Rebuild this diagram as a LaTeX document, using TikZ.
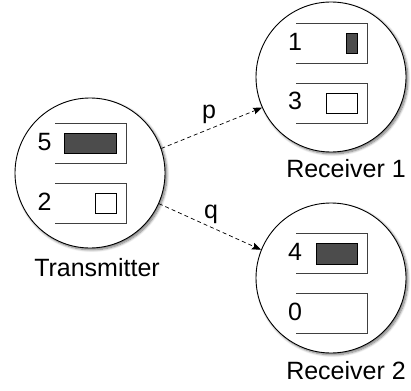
\documentclass[tikz,border=0pt]{standalone}
\usepackage{fontspec}
\setmainfont{Liberation Sans}
\usetikzlibrary{arrows.meta,shadows.blur}
\begin{document}
\begin{tikzpicture}[x=1pt,y=-1pt,
  host/.style={circle,draw=black,line width=0.9pt,fill=white,minimum size=150pt,inner sep=0pt,
    blur shadow={shadow xshift=1.8pt,shadow yshift=-1.8pt,shadow blur radius=2.5pt,shadow blur steps=8,shadow opacity=55}},
  lbl/.style={font=\fontsize{25}{30}\selectfont,inner sep=0pt},
  digit/.style={lbl,anchor=base},
  slot/.style={draw=black!75,line width=0.9pt},
  full/.style={draw=black,line width=0.8pt,fill=black!70},
  empty/.style={draw=black,line width=0.8pt,fill=white},
  msg/.style={dashed,dash pattern=on 4pt off 3pt,line width=0.7pt,-{Stealth[length=9pt,width=7pt,inset=1.5pt]}}
]
\useasboundingbox (0,0) rectangle (411,390);
\node[host] (T) at (90,173) {};
\node[host] (R1) at (331,77) {};
\node[host] (R2) at (331,278) {};
% transmitter slots
\draw[slot] (55,123) -- (126,123) -- (126,163) -- (55,163);
\draw[slot] (55,183) -- (126,183) -- (126,223) -- (55,223);
\draw[full] (64,133) rectangle (116,153);
\draw[empty] (95,193) rectangle (116,213);
\node[digit] (t5) at (44.5,150) {5};
\node[digit] (t2) at (44.5,210) {2};
% receiver 1 slots
\draw[slot] (296,23) -- (367,23) -- (367,63) -- (296,63);
\draw[slot] (296,83) -- (367,83) -- (367,123) -- (296,123);
\draw[full] (346,33) rectangle (357,53);
\draw[empty] (326,93) rectangle (357,113);
\node[digit] (r1a) at (295,51) {1};
\node[digit] (r1b) at (295,110) {3};
% receiver 2 slots
\draw[slot] (296,233) -- (367,233) -- (367,273) -- (296,273);
\draw[slot] (296,293) -- (367,293) -- (367,333) -- (296,333);
\draw[full] (316,243) rectangle (357,264);
\node[digit] (r2a) at (295,260) {4};
\node[digit] (r2b) at (295,320) {0};
% names
\node[lbl,anchor=base] (tn) at (97,276) {Transmitter};
\node[lbl,anchor=base] (r1n) at (346,177) {Receiver 1};
\node[lbl,anchor=base] (r2n) at (346,379) {Receiver 2};
% messages
\draw[msg] (T.19) -- (R1.204);
\draw[msg] (T.-24) -- (R2.158);
\node[lbl,anchor=base] (p) at (209,118) {p};
\node[lbl,anchor=base] (q) at (211,218) {q};
\end{tikzpicture}
\end{document}
